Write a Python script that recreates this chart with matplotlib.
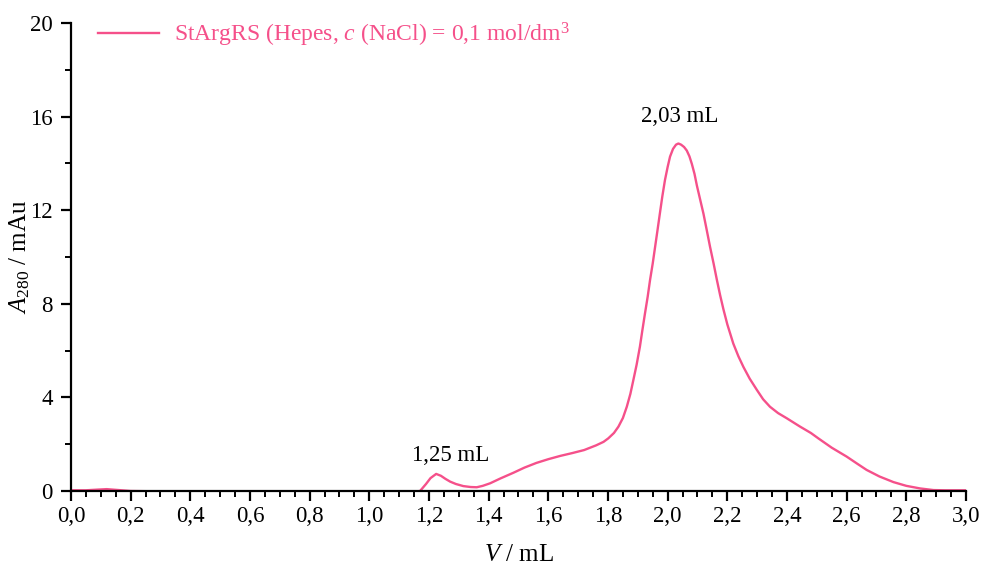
import numpy as np
import matplotlib.pyplot as plt
from matplotlib.ticker import MultipleLocator, FuncFormatter

plt.rcParams['font.family'] = ['Liberation Serif', 'DejaVu Serif']
plt.rcParams['mathtext.fontset'] = 'custom'
plt.rcParams['mathtext.rm'] = 'Liberation Serif'
plt.rcParams['mathtext.it'] = 'Liberation Serif:italic'

# elution volume (mL) and absorbance at 280 nm (mAu)
volume = [0.00, 0.05, 0.09, 0.12, 0.15, 0.20, 0.40, 0.80, 1.15, 1.17,
          1.19, 1.205, 1.224, 1.24, 1.255, 1.271, 1.29, 1.315, 1.34, 1.36,
          1.38, 1.405, 1.44, 1.483, 1.52, 1.56, 1.60, 1.64, 1.68, 1.72,
          1.76, 1.785, 1.801, 1.82, 1.835, 1.85, 1.863, 1.875, 1.885, 1.896,
          1.907, 1.915, 1.924, 1.933, 1.941, 1.95, 1.958, 1.966, 1.974, 1.982,
          1.991, 2.000, 2.008, 2.018, 2.028, 2.036, 2.045, 2.055, 2.064, 2.073,
          2.081, 2.09, 2.098, 2.109, 2.120, 2.131, 2.142, 2.154, 2.165, 2.176,
          2.187, 2.20, 2.220, 2.237, 2.254, 2.275, 2.299, 2.32, 2.343, 2.37,
          2.399, 2.444, 2.48, 2.505, 2.55, 2.60, 2.635, 2.667, 2.71, 2.757,
          2.80, 2.846, 2.891, 2.93, 3.00]
absorbance = [0.03, 0.03, 0.06, 0.08, 0.05, 0.00, -0.03, -0.03, -0.03, 0.00,
              0.30, 0.55, 0.73, 0.65, 0.52, 0.40, 0.30, 0.21, 0.17, 0.16,
              0.22, 0.33, 0.54, 0.78, 1.00, 1.20, 1.36, 1.50, 1.62, 1.75,
              1.95, 2.10, 2.25, 2.48, 2.75, 3.12, 3.60, 4.15, 4.74, 5.40,
              6.17, 6.85, 7.59, 8.30, 9.02, 9.73, 10.44, 11.15, 11.87, 12.58,
              13.29, 13.85, 14.29, 14.62, 14.80, 14.85, 14.80, 14.70, 14.55, 14.30,
              13.98, 13.55, 13.05, 12.45, 11.85, 11.15, 10.44, 9.72, 9.02, 8.36,
              7.76, 7.12, 6.30, 5.76, 5.30, 4.80, 4.32, 3.92, 3.60, 3.33,
              3.11, 2.75, 2.48, 2.25, 1.85, 1.47, 1.17, 0.90, 0.62, 0.38,
              0.22, 0.11, 0.04, 0.03, 0.03]

peak_labels = ['1,25 mL', '2,03 mL']
peak_pos = [(1.274, 1.28), (2.04, 15.78)]

pink = '#f5508a'

fig = plt.figure(figsize=(9.82, 5.66), dpi=100)
ax = fig.add_axes([0.0723, 0.1325, 0.9114, 0.8269])

ax.plot(volume, absorbance, color=pink, lw=1.7, zorder=2,
        label='StArgRS (Hepes, $c$ (NaCl) = 0,1 mol/dm$^3$')

for txt, (px, py) in zip(peak_labels, peak_pos):
    ax.text(px, py, txt, ha='center', va='baseline', fontsize=16.5)

ax.set_xlim(0, 3.0)
ax.set_ylim(0, 20)
ax.xaxis.set_major_locator(MultipleLocator(0.2))
ax.xaxis.set_minor_locator(MultipleLocator(0.05))
ax.yaxis.set_major_locator(MultipleLocator(4))
ax.yaxis.set_minor_locator(MultipleLocator(2))
ax.xaxis.set_major_formatter(FuncFormatter(lambda v, p: f'{v:.1f}'.replace('.', ',')))
ax.yaxis.set_major_formatter(FuncFormatter(lambda v, p: f'{v:.0f}'))

for s in ['top', 'right']:
    ax.spines[s].set_visible(False)
for s in ['left', 'bottom']:
    ax.spines[s].set_linewidth(1.6)
    ax.spines[s].set_zorder(3)

ax.tick_params(which='major', direction='out', length=7, width=1.6,
               labelsize=16.5)
ax.tick_params(which='minor', direction='out', length=4, width=1.4)
ax.tick_params(axis='x', which='major', pad=4)
ax.tick_params(axis='y', which='major', pad=6)

ax.set_xlabel('$V$ / mL', fontsize=18, labelpad=12)
ax.set_ylabel(r'$A_{\mathit{280}}$ / mAu', fontsize=18, labelpad=-1)

ax.legend(loc='upper left', frameon=False, fontsize=17, labelcolor=pink,
          handlelength=2.55, handletextpad=0.65, borderaxespad=0.0,
          bbox_to_anchor=(0.02, 1.025))

fig.savefig('out.png', dpi=100)
